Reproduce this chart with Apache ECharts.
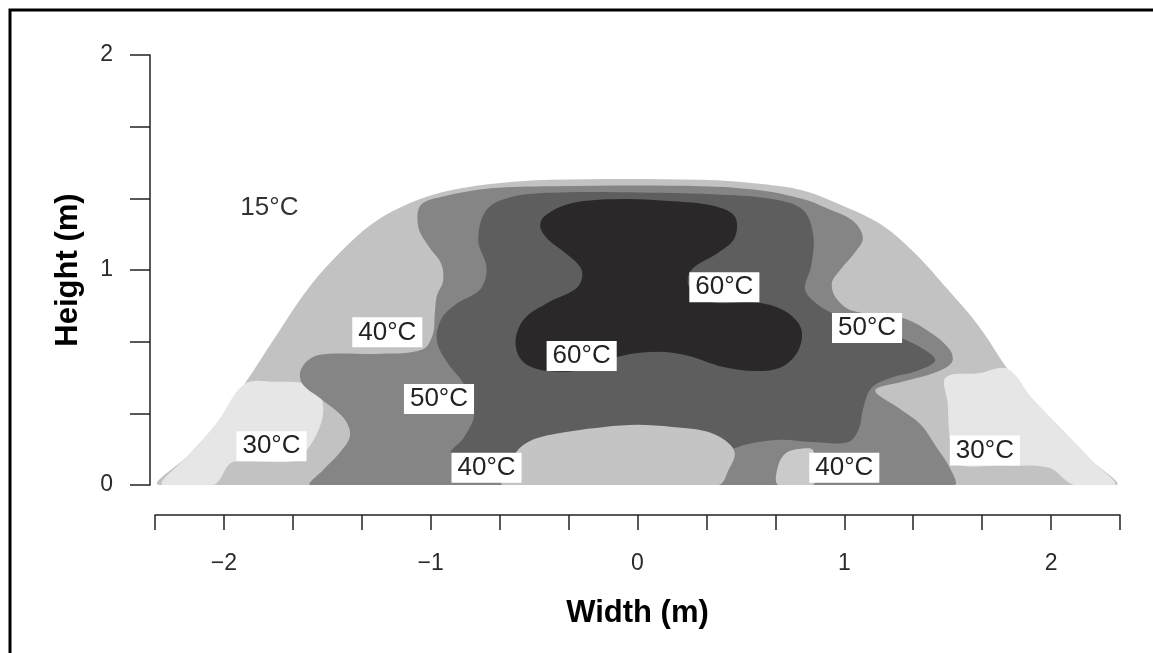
<!DOCTYPE html>
<html>
<head>
<meta charset="utf-8">
<script src="https://cdn.jsdelivr.net/npm/echarts@6/dist/echarts.min.js"></script>
<style>
  html, body { margin: 0; padding: 0; background: #ffffff; }
  #chart { width: 1153px; height: 653px; }
</style>
</head>
<body>
<div id="chart"></div>
<script>
// Isotherm zones across the pile section; every outline is a list of [width (m), height (m)].

// Whole pile cross-section (30–40 °C band is the base fill)
const pileOutline = [
  [-2.31, 0], [-2.17, 0.14], [-2.04, 0.28], [-1.90, 0.47], [-1.73, 0.72], [-1.58, 0.93],
  [-1.44, 1.08], [-1.29, 1.21], [-1.15, 1.29], [-0.95, 1.36], [-0.71, 1.40], [-0.42, 1.42],
  [0.31, 1.42], [0.60, 1.40], [0.80, 1.37], [0.99, 1.30], [1.18, 1.21], [1.35, 1.07],
  [1.50, 0.91], [1.65, 0.74], [1.79, 0.54], [1.91, 0.40], [2.06, 0.25], [2.20, 0.11],
  [2.31, 0], [0, 0]
];

// Below 30 °C, lower left and lower right edges
const coolLeft = [
  [-2.30, 0], [-2.17, 0.14], [-2.04, 0.28], [-1.90, 0.47], [-1.75, 0.48], [-1.60, 0.47],
  [-1.54, 0.43], [-1.52, 0.34], [-1.55, 0.24], [-1.61, 0.15], [-1.66, 0.11], [-1.90, 0.11],
  [-1.97, 0.10], [-2.05, 0]
];
const coolRight = [
  [1.49, 0.50], [1.65, 0.52], [1.79, 0.54], [1.91, 0.40], [2.06, 0.25], [2.20, 0.11],
  [2.31, 0], [2.11, 0], [1.99, 0.08], [1.77, 0.09], [1.54, 0.10], [1.51, 0.22], [1.50, 0.38]
];

// 40–50 °C
const band40 = [
  [-1.58, 0], [-1.52, 0.07], [-1.44, 0.15], [-1.39, 0.23], [-1.42, 0.31], [-1.53, 0.40],
  [-1.62, 0.47], [-1.63, 0.53], [-1.58, 0.59], [-1.49, 0.61], [-1.24, 0.61], [-1.04, 0.63],
  [-0.99, 0.70], [-0.98, 0.80], [-0.97, 0.88], [-0.94, 0.95], [-0.95, 1.03], [-1.01, 1.11],
  [-1.06, 1.20], [-1.05, 1.30], [-0.95, 1.34], [-0.71, 1.38], [-0.42, 1.39], [0.31, 1.39],
  [0.60, 1.37], [0.80, 1.33], [0.91, 1.29], [1.04, 1.23], [1.09, 1.15], [1.05, 1.08],
  [0.98, 1.00], [0.94, 0.94], [0.96, 0.87], [1.04, 0.81], [1.27, 0.78], [1.40, 0.72],
  [1.51, 0.63], [1.52, 0.57], [1.43, 0.52], [1.28, 0.48], [1.15, 0.44], [1.26, 0.36],
  [1.37, 0.28], [1.45, 0.17], [1.51, 0.08], [1.53, 0], [0, 0]
];

// 50–60 °C
const band50 = [
  [-0.90, 0.15], [-0.84, 0.22], [-0.79, 0.33], [-0.84, 0.47], [-0.92, 0.57], [-0.97, 0.67],
  [-0.95, 0.77], [-0.88, 0.84], [-0.76, 0.91], [-0.73, 1.01], [-0.77, 1.14], [-0.73, 1.28],
  [-0.61, 1.34], [-0.37, 1.36], [0.02, 1.36], [0.41, 1.35], [0.65, 1.33], [0.80, 1.28],
  [0.85, 1.16], [0.84, 1.02], [0.81, 0.91], [0.87, 0.84], [0.99, 0.78], [1.18, 0.72],
  [1.35, 0.65], [1.44, 0.58], [1.35, 0.53], [1.23, 0.50], [1.13, 0.45], [1.09, 0.35],
  [1.07, 0.26], [1.02, 0.20], [0.84, 0.20], [0.69, 0.21], [0.53, 0.19], [0.45, 0.17],
  [0.30, 0.20], [0.00, 0.22], [-0.30, 0.20], [-0.56, 0.15], [-0.66, 0.13]
];

// 30–40 °C pockets along the base
const baseCentre = [
  [-0.65, 0], [-0.64, 0.07], [-0.61, 0.12], [-0.56, 0.18], [-0.48, 0.22], [-0.32, 0.25],
  [-0.16, 0.27], [0.00, 0.28], [0.17, 0.27], [0.33, 0.25], [0.42, 0.21], [0.47, 0.15],
  [0.44, 0.07], [0.39, 0]
];
const baseRight = [
  [0.68, 0], [0.68, 0.09], [0.72, 0.15], [0.80, 0.17], [0.85, 0.16], [0.85, 0]
];

// Above 60 °C core
const core60 = [
  [-0.45, 1.25], [-0.32, 1.31], [-0.08, 1.33], [0.17, 1.32], [0.36, 1.30], [0.47, 1.25],
  [0.47, 1.15], [0.39, 1.08], [0.26, 1.00], [0.25, 0.92], [0.36, 0.85], [0.57, 0.85],
  [0.71, 0.81], [0.79, 0.73], [0.78, 0.63], [0.70, 0.55], [0.57, 0.53], [0.41, 0.55],
  [0.25, 0.60], [0.10, 0.62], [-0.08, 0.60], [-0.24, 0.54], [-0.43, 0.53], [-0.55, 0.57],
  [-0.59, 0.66], [-0.55, 0.77], [-0.43, 0.85], [-0.29, 0.92], [-0.27, 1.00], [-0.35, 1.08],
  [-0.43, 1.14], [-0.47, 1.20]
];

// Isotherm labels
const labelTexts = ['15°C', '40°C', '60°C', '50°C', '60°C', '50°C', '30°C', '40°C', '40°C', '30°C'];
const labelX     = [-1.78, -1.21, 0.42, 1.11, -0.27, -0.96, -1.77, -0.73, 1.00, 1.68];
const labelY     = [1.29, 0.71, 0.92, 0.73, 0.60, 0.40, 0.18, 0.08, 0.08, 0.16];

// Axis ranges and tick spacing (labels only on whole metres)
const widthRange = [-7 / 3, 7 / 3];
const heightRange = [0, 2];
const tickStep = 1 / 3;

const FONT = 'Liberation Sans, Arial, Helvetica, sans-serif';

function intLabel(v) {
  const r = Math.round(v);
  if (Math.abs(v - r) > 1e-6) return '';
  return r < 0 ? '\u2212' + Math.abs(r) : String(r);
}

function zoneSeries(name, points, color) {
  return {
    name: name,
    type: 'custom',
    coordinateSystem: 'cartesian2d',
    clip: true,
    silent: true,
    data: points,
    encode: { x: 0, y: 1 },
    renderItem: function (params, api) {
      if (params.dataIndex !== 0) return null;
      return {
        type: 'polygon',
        shape: { points: points.map(function (p) { return api.coord(p); }), smooth: 0.35 },
        style: { fill: color }
      };
    }
  };
}

const chart = echarts.init(document.getElementById('chart'), null, { renderer: 'canvas' });

chart.setOption({
  animation: false,
  backgroundColor: '#ffffff',
  grid: { left: 155, right: 33, top: 55, bottom: 168, containLabel: false },
  graphic: [{
    type: 'rect',
    shape: { x: 10, y: 10, width: 1400, height: 900 },
    style: { fill: 'none', stroke: '#000000', lineWidth: 3 },
    silent: true
  }],
  xAxis: {
    type: 'value',
    min: widthRange[0],
    max: widthRange[1],
    interval: tickStep,
    offset: 30,
    name: 'Width (m)',
    nameLocation: 'middle',
    nameGap: 83,
    nameTextStyle: { fontFamily: FONT, fontSize: 31, fontWeight: 'bold', color: '#000' },
    axisLine: { show: true, onZero: false, lineStyle: { color: '#222', width: 1.5 } },
    axisTick: { show: true, length: 15, lineStyle: { color: '#222', width: 1.5 } },
    axisLabel: { formatter: intLabel, margin: 37, fontFamily: FONT, fontSize: 23, color: '#2a2a2a', showMinLabel: true, showMaxLabel: true },
    splitLine: { show: false }
  },
  yAxis: {
    type: 'value',
    min: heightRange[0],
    max: heightRange[1],
    interval: tickStep,
    offset: 5,
    name: 'Height (m)',
    nameLocation: 'middle',
    nameGap: 66,
    nameTextStyle: { fontFamily: FONT, fontSize: 31, fontWeight: 'bold', color: '#000' },
    axisLine: { show: true, onZero: false, lineStyle: { color: '#222', width: 1.5 } },
    axisTick: { show: true, length: 20, lineStyle: { color: '#222', width: 1.5 } },
    axisLabel: { formatter: intLabel, margin: 37, fontFamily: FONT, fontSize: 23, color: '#2a2a2a' },
    splitLine: { show: false }
  },
  series: [
    zoneSeries('30–40 °C', pileOutline, '#c2c2c2'),
    zoneSeries('<30 °C left', coolLeft, '#e6e6e6'),
    zoneSeries('<30 °C right', coolRight, '#e6e6e6'),
    zoneSeries('40–50 °C', band40, '#858585'),
    zoneSeries('50–60 °C', band50, '#5e5e5e'),
    zoneSeries('30–40 °C base', baseCentre, '#c4c4c4'),
    zoneSeries('30–40 °C base right', baseRight, '#cacaca'),
    zoneSeries('>60 °C', core60, '#2a2828'),
    {
      type: 'scatter',
      z: 10,
      silent: true,
      symbolSize: 1,
      itemStyle: { color: 'rgba(0,0,0,0)', opacity: 1 },
      data: labelTexts.map(function (t, i) {
        const item = { name: t, value: [labelX[i], labelY[i]] };
        if (t === '15°C') item.label = { backgroundColor: 'transparent', color: '#333333' };
        return item;
      }),
      label: {
        show: true,
        position: 'inside',
        formatter: '{b}',
        fontFamily: FONT,
        fontSize: 26,
        color: '#222222',
        opacity: 1,
        backgroundColor: '#ffffff',
        padding: [2, 6]
      }
    }
  ]
});
</script>
</body>
</html>
